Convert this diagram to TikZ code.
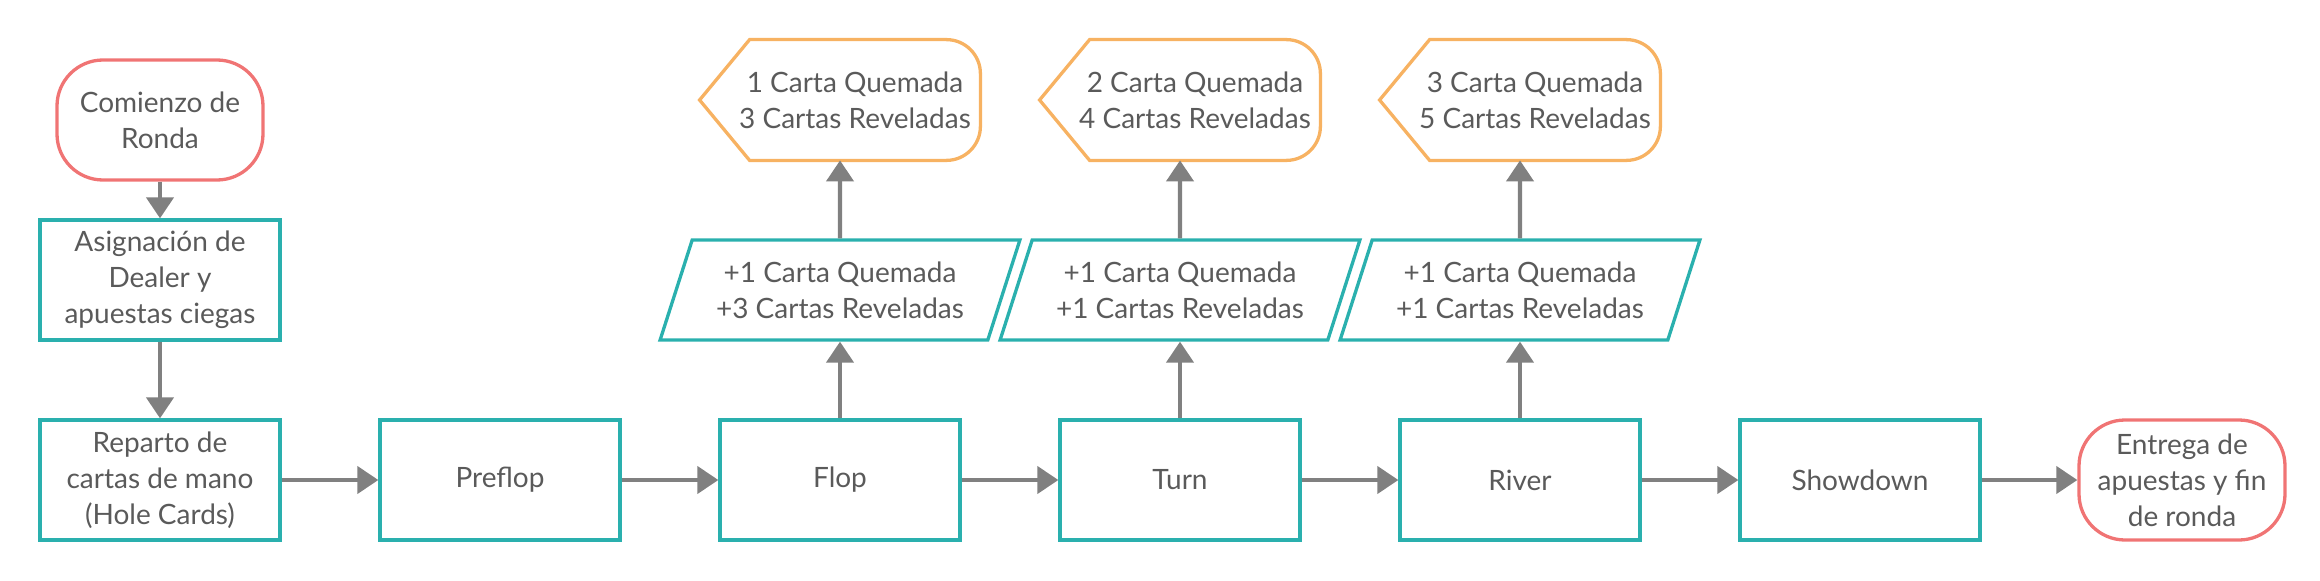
\documentclass[tikz,border=0pt]{standalone}
\usepackage{fontspec}
\setmainfont{Lato}
\usetikzlibrary{shapes.geometric,arrows.meta}
\definecolor{tealline}{HTML}{2AB0AE}
\definecolor{redline}{HTML}{F07474}
\definecolor{orangeline}{HTML}{F7B262}
\definecolor{arrowgray}{HTML}{808080}
\definecolor{textgray}{HTML}{5A5A5A}

\begin{document}
\begin{tikzpicture}[node distance=170pt,
                    every node/.style={font=\fontsize{14}{18}\selectfont, text=textgray, align=center},
                    terminal/.style={rectangle, rounded corners=23pt, draw=redline, line width=1.65pt, minimum width=103pt, minimum height=60pt},
                    process/.style={rectangle, draw=tealline, line width=1.65pt, minimum width=120pt, minimum height=60pt},
                    cards/.style={trapezium, trapezium left angle=68, trapezium right angle=112, trapezium stretches=true, draw=tealline, line width=1.65pt, minimum width=180pt, minimum height=50pt},
                    display/.style={rectangle, minimum width=125pt, minimum height=60pt, xshift=7.5pt},
                    displayline/.style={draw=orangeline, line width=1.65pt},
                    flow/.style={-{Triangle[length=10.5pt,width=13.5pt]}, draw=arrowgray, line width=2.1pt}]
  \useasboundingbox (0,0) rectangle (1160pt,290pt);

  \node (Start) [terminal] at (80pt,230pt) {Comienzo de\\Ronda};
  \node (Asignacion) [process, below of=Start, node distance=80pt] {Asignación de\\Dealer y\\apuestas ciegas};
  \node (Reparto) [process, below of=Asignacion, node distance=100pt] {Reparto de\\cartas de mano\\(Hole Cards)};
  \node (Preflop) [process, right of=Reparto] {Preflop};
  \node (Flop) [process, right of=Preflop] {Flop};
  \node (Turn) [process, right of=Flop] {Turn};
  \node (River) [process, right of=Turn] {River};
  \node (Showdown) [process, right of=River] {Showdown};
  \node (Entrega) [terminal, right of=Showdown, node distance=161pt] {Entrega de\\apuestas y fin\\de ronda};

  \node (CardsFlop) [cards, above of=Flop, node distance=95pt] {+1 Carta Quemada\\+3 Cartas Reveladas};
  \node (CardsTurn) [cards, above of=Turn, node distance=95pt] {+1 Carta Quemada\\+1 Cartas Reveladas};
  \node (CardsRiver) [cards, above of=River, node distance=95pt] {+1 Carta Quemada\\+1 Cartas Reveladas};

  \node (BoardFlop) [display, above of=CardsFlop, node distance=95pt] {1 Carta Quemada\\3 Cartas Reveladas};
  \node (BoardTurn) [display, above of=CardsTurn, node distance=95pt] {2 Carta Quemada\\4 Cartas Reveladas};
  \node (BoardRiver) [display, above of=CardsRiver, node distance=95pt] {3 Carta Quemada\\5 Cartas Reveladas};

  % display outlines
  \draw[displayline] ([xshift=-15pt]BoardFlop.west) -- ([xshift=10pt]BoardFlop.north west) -- ([xshift=-17pt]BoardFlop.north east)
    arc[start angle=90, end angle=0, radius=17pt] -- ([yshift=17pt]BoardFlop.south east)
    arc[start angle=0, end angle=-90, radius=17pt] -- ([xshift=10pt]BoardFlop.south west) -- cycle;
  \draw[displayline] ([xshift=-15pt]BoardTurn.west) -- ([xshift=10pt]BoardTurn.north west) -- ([xshift=-17pt]BoardTurn.north east)
    arc[start angle=90, end angle=0, radius=17pt] -- ([yshift=17pt]BoardTurn.south east)
    arc[start angle=0, end angle=-90, radius=17pt] -- ([xshift=10pt]BoardTurn.south west) -- cycle;
  \draw[displayline] ([xshift=-15pt]BoardRiver.west) -- ([xshift=10pt]BoardRiver.north west) -- ([xshift=-17pt]BoardRiver.north east)
    arc[start angle=90, end angle=0, radius=17pt] -- ([yshift=17pt]BoardRiver.south east)
    arc[start angle=0, end angle=-90, radius=17pt] -- ([xshift=10pt]BoardRiver.south west) -- cycle;

  \draw[flow] (Start) -- (Asignacion);
  \draw[flow] (Asignacion) -- (Reparto);
  \draw[flow] (Reparto) -- (Preflop);
  \draw[flow] (Preflop) -- (Flop);
  \draw[flow] (Flop) -- (Turn);
  \draw[flow] (Turn) -- (River);
  \draw[flow] (River) -- (Showdown);
  \draw[flow] (Showdown) -- (Entrega);
  \draw[flow] (Flop) -- (CardsFlop);
  \draw[flow] (Turn) -- (CardsTurn);
  \draw[flow] (River) -- (CardsRiver);
  \draw[flow] (CardsFlop) -- (CardsFlop.north |- BoardFlop.south);
  \draw[flow] (CardsTurn) -- (CardsTurn.north |- BoardTurn.south);
  \draw[flow] (CardsRiver) -- (CardsRiver.north |- BoardRiver.south);
\end{tikzpicture}
\end{document}
